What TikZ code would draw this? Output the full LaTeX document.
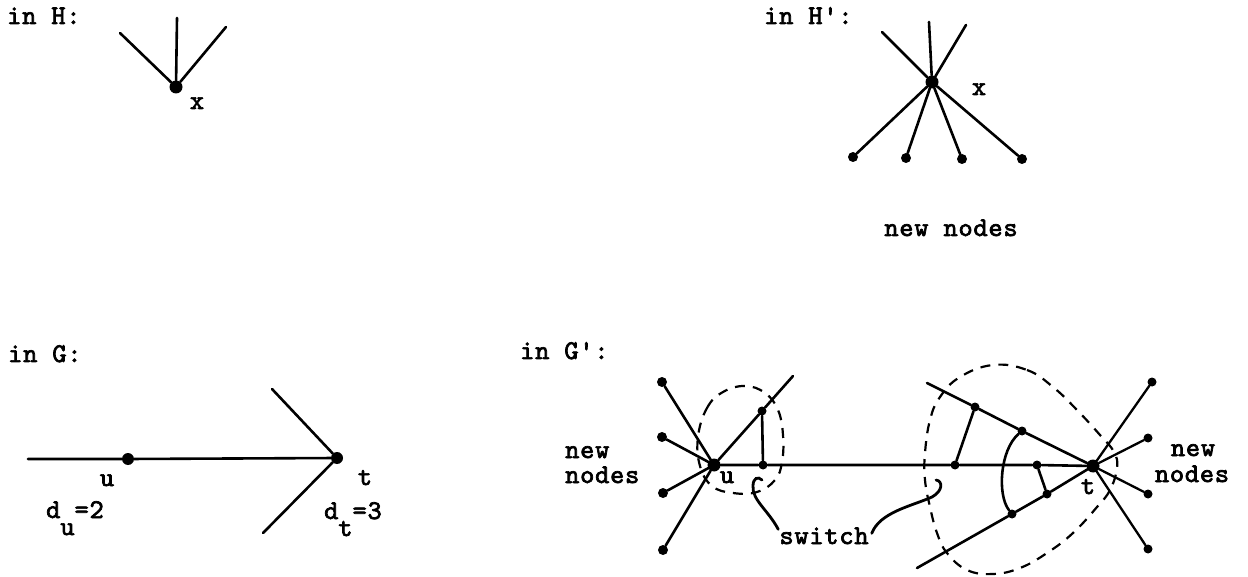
\documentclass[tikz,border=0pt]{standalone}
\usepackage{fontspec}
\usetikzlibrary{calc}
\newfontfamily\tw{lmmono10-regular.otf}[LetterSpace=3,FakeBold=2.6]
\begin{document}
\begin{tikzpicture}[x=1pt,y=-1pt,
  edge/.style={line width=2.6pt,line cap=round},
  vtx/.style={circle,fill,inner sep=0pt,minimum size=10pt},
  smallvtx/.style={circle,fill,inner sep=0pt,minimum size=9pt},
  bigvtx/.style={circle,fill,inner sep=0pt,minimum size=13pt},
  lbl/.style={inner sep=0pt,font=\tw\fontsize{27}{32}\selectfont},
  encl/.style={line width=2.2pt,dash pattern=on 10pt off 8pt},
  pointer/.style={line width=2.8pt,line cap=round}]
\useasboundingbox (0,0) rectangle (1248,577);
\fill[white] (0,0) rectangle (1248,577);

% ---------- in H ----------
\node[lbl,anchor=base west] (tH) at (7,24) {in H:};
\node[bigvtx] (hx) at (176,87) {};
\coordinate (h1) at (120,33);
\coordinate (h2) at (177,18);
\coordinate (h3) at (226,27);
\foreach \e in {h1,h2,h3} \draw[edge] (hx) -- (\e);
\node[lbl,anchor=base] (hxl) at (197,109) {x};

% ---------- in H' ----------
\node[lbl,anchor=base west] (tHp) at (764,24) {in H':};
\node[bigvtx] (px) at (932,82) {};
\coordinate (p1) at (882,32);
\coordinate (p2) at (929,22);
\coordinate (p3) at (966,25);
\foreach \e in {p1,p2,p3} \draw[edge] (px) -- (\e);
\node[vtx] (q1) at (853,157) {};
\node[vtx] (q2) at (906,158) {};
\node[vtx] (q3) at (962,159) {};
\node[vtx] (q4) at (1022,159) {};
\foreach \e in {q1,q2,q3,q4} \draw[edge] (px) -- (\e);
\node[lbl,anchor=base] (pxl) at (979,95) {x};
\node[lbl,anchor=base] (pnew) at (951,236) {new nodes};

% ---------- in G ----------
\node[lbl,anchor=base west] (tG) at (8,362) {in G:};
\coordinate (g0) at (28,459);
\node[vtx,minimum size=12pt] (gu) at (128,459) {};
\node[vtx,minimum size=12pt] (gt) at (337,458) {};
\coordinate (g1) at (272,389);
\coordinate (g2) at (263,533);
\draw[edge] (g0) -- (gu) -- (gt);
\draw[edge] (gt) -- (g1);
\draw[edge] (gt) -- (g2);
\node[lbl,anchor=base] (gul) at (107,486) {u};
\node[lbl,anchor=base] (gtl) at (365,485) {t};
\node[lbl,anchor=base west] (du) at (46,518) {d\raisebox{-17pt}{u}=2};
\node[lbl,anchor=base west] (dt) at (324,519) {d\raisebox{-17pt}{t}=3};

% ---------- in G' ----------
\node[lbl,anchor=base west] (tGp) at (520,359) {in G':};

% vertex u and its new neighbours
\node[bigvtx] (u) at (714,465) {};
\node[vtx] (n1) at (662,382) {};
\node[vtx] (n2) at (662,437) {};
\node[vtx] (n3) at (663,493) {};
\node[vtx] (n4) at (663,550) {};
\foreach \e in {n1,n2,n3,n4} \draw[edge] (u) -- (\e);

% switch at u
\node[smallvtx] (s1) at (762,411) {};
\node[smallvtx] (s2) at (763,465) {};
\coordinate (ue) at (793,376);
\draw[edge] (u) -- (s1) -- (ue);
\draw[edge] (s1) -- (s2);

% vertex t and its new neighbours
\node[bigvtx] (t) at (1093,466) {};
\node[smallvtx] (m1) at (1152,382) {};
\node[smallvtx] (m2) at (1148,438) {};
\node[smallvtx] (m3) at (1148,494) {};
\node[smallvtx] (m4) at (1148,549) {};
\foreach \e in {m1,m2,m3,m4} \draw[edge,line width=2.3pt] (t) -- (\e);

% path u -- t
\node[smallvtx] (a1) at (955,465) {};
\node[smallvtx] (a2) at (1037,465) {};
\draw[edge] (u) -- (s2) -- (a1) -- (a2) -- (t);

% two further edges at t
\coordinate (e1) at (927,383);
\node[smallvtx] (b1) at (975,407) {};
\node[smallvtx] (b2) at (1022,431) {};
\draw[edge] (e1) -- (b1) -- (b2) -- (t);
\coordinate (e2) at (917,568);
\node[smallvtx] (c1) at (1012,514) {};
\node[smallvtx] (c2) at (1047,494) {};
\draw[edge] (e2) -- (c1) -- (c2) -- (t);

% switch edges at t
\draw[edge] (a1) -- (b1);
\draw[edge] (a2) -- (c2);
\draw[edge] (b2) .. controls (1000,450) and (997,495) .. (c1);

% dashed enclosures
\draw[encl] plot[smooth cycle,tension=0.7] coordinates {
  (698,437) (707,408) (723,392) (745,386) (765,393) (778,410) (783,435)
  (782,462) (775,480) (757,492) (733,493) (712,486) (700,466)};
\draw[encl] plot[smooth cycle,tension=0.7] coordinates {
  (993,365) (1027,370) (1053,387) (1077,410) (1100,435) (1114,452)
  (1117,468) (1110,490) (1097,507) (1073,533) (1047,553) (1020,568)
  (993,574) (967,570) (947,553) (937,533) (930,507) (925,480) (925,453)
  (930,420) (940,397) (960,377)};

% labels
\node[lbl,anchor=base west] (ln1) at (565,458) {new};
\node[lbl,anchor=base west] (ln2) at (565,483) {nodes};
\node[lbl,anchor=base] (ul) at (727,483) {u};
\node[lbl,anchor=base] (tl) at (1088,494) {t};
\node[lbl,anchor=base] (rn1) at (1193,456) {new};
\node[lbl,anchor=base] (rn2) at (1192,482) {nodes};
\node[lbl,anchor=base] (sw) at (824,544) {switch};

% pointers from the switch label
\coordinate (swL) at ($(sw.north west)+(-1,2)$);
\coordinate (swR) at ($(sw.north east)+(3,6)$);
\draw[pointer] (swL) .. controls (768,510) and (752,500) .. (753,486)
  .. controls (753,478) and (758,476) .. (762,480);
\draw[pointer] (swR) .. controls (880,512) and (912,506) .. (932,497)
  .. controls (943,491) and (943,481) .. (936,480);
\end{tikzpicture}
\end{document}
